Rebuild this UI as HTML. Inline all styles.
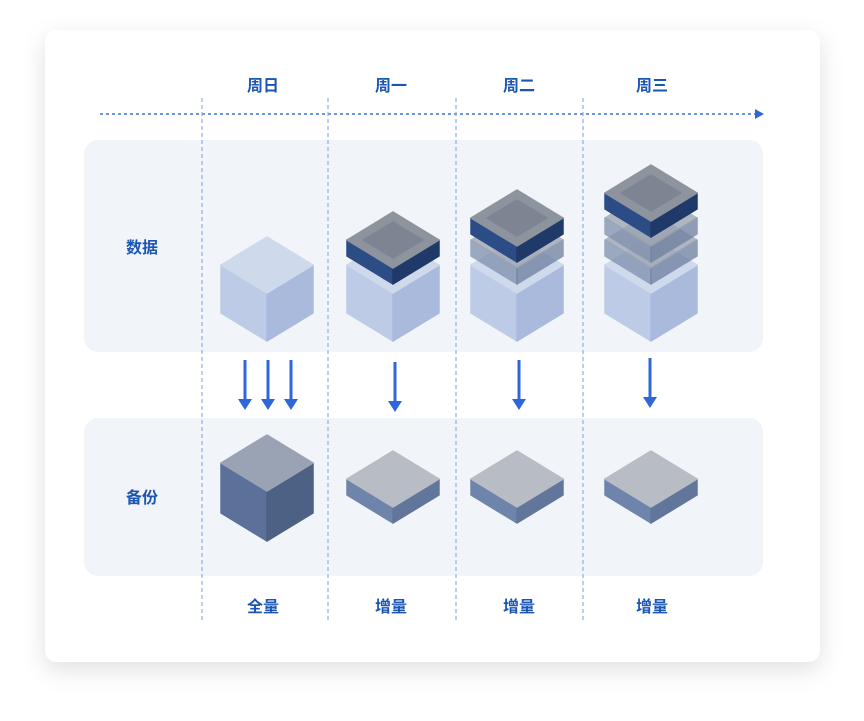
<!DOCTYPE html>
<html><head><meta charset="utf-8"><style>
html,body{margin:0;padding:0;background:#fff;width:864px;height:721px;overflow:hidden}
text{font-family:"Liberation Sans","Noto Sans CJK SC",sans-serif;font-weight:bold;fill:#1b56b3;font-size:16px;text-anchor:middle}
</style></head><body>
<svg id="s" width="864" height="721" viewBox="0 0 864 721" xmlns="http://www.w3.org/2000/svg">
<defs>
<filter id="sh" x="-10%" y="-10%" width="120%" height="125%"><feDropShadow dx="0" dy="8" stdDeviation="12" flood-color="#000" flood-opacity="0.12"/></filter>
</defs>
<rect x="45" y="30" width="775" height="632" rx="12" fill="#fff" filter="url(#sh)"/>
<rect x="84" y="140" width="679" height="212" rx="14" fill="#f1f5fa"/>
<rect x="84" y="418" width="679" height="158" rx="14" fill="#f1f5fa"/>
<line x1="100" y1="114" x2="758" y2="114" stroke="#3d72d6" stroke-width="1.6" stroke-dasharray="3,3"/>
<polygon points="764,114 755,109 755,119" fill="#2f67d8"/>
<g stroke="#8faee0" stroke-width="1.2" stroke-dasharray="4,3">
<line x1="202" y1="98" x2="202" y2="620"/><line x1="328" y1="98" x2="328" y2="620"/>
<line x1="456" y1="98" x2="456" y2="620"/><line x1="583" y1="98" x2="583" y2="620"/>
</g>
<text x="263" y="91">周日</text><text x="391" y="91">周一</text><text x="519" y="91">周二</text><text x="652" y="91">周三</text>
<text x="142" y="253">数据</text><text x="142" y="503">备份</text>
<text x="263" y="612">全量</text><text x="391" y="612">增量</text><text x="519" y="612">增量</text><text x="652" y="612">增量</text>
<g fill="#2f67d8" stroke="#2f67d8">
<g id="arrows"></g>
</g>
<g id="cubes"></g>
</svg>
<script>
var NS="http://www.w3.org/2000/svg";
function poly(g,pts,fill,op){var p=document.createElementNS(NS,"polygon");p.setAttribute("points",pts.map(function(a){return a.join(",")}).join(" "));p.setAttribute("fill",fill);p.setAttribute("stroke",fill);p.setAttribute("stroke-width","1.5");p.setAttribute("stroke-linejoin","round");if(op)p.setAttribute("opacity",op);g.appendChild(p);}
var G=document.getElementById("cubes");
function cube(cx,t,w,h,d,top,l,r,op){
 poly(G,[[cx-w,t+h],[cx,t+2*h],[cx,t+2*h+d],[cx-w,t+h+d]],l,op);
 poly(G,[[cx+w,t+h],[cx,t+2*h],[cx,t+2*h+d],[cx+w,t+h+d]],r,op);
 poly(G,[[cx,t],[cx+w,t+h],[cx,t+2*h],[cx-w,t+h]],top,op);
}
function light(cx){cube(cx,237,46,28,48,"#cfd9ec","#bdcbe6","#a9badd");}
function plate(cx,t){cube(cx,t,46,28,16,"#8e949e","#2c4c85","#1f3a68");
 poly(G,[[cx,t+10],[cx+30,t+28],[cx,t+46],[cx-30,t+28]],"#7d8593");}
function ghost(cx,t){cube(cx,t,46,28,16,"#9aa2b0","#7f90ad","#6e7f9e","0.75");}
light(267);
light(393);plate(393,212);
light(517);ghost(517,212);plate(517,190);
light(651);ghost(651,212);ghost(651,190);plate(651,165);
cube(267,435,46,28,50,"#9aa3b3","#5b7199","#4d6184");
[393,517,651].forEach(function(c){cube(c,451,46,28,16,"#b8bcc5","#6f84aa","#62769b");});
var A=document.getElementById("arrows");
function arrow(x,y1,y2){var l=document.createElementNS(NS,"line");l.setAttribute("x1",x);l.setAttribute("x2",x);l.setAttribute("y1",y1);l.setAttribute("y2",y2-8);l.setAttribute("stroke-width","3");A.appendChild(l);
 var p=document.createElementNS(NS,"polygon");p.setAttribute("points",(x-7)+","+(y2-11)+" "+(x+7)+","+(y2-11)+" "+x+","+y2);p.setAttribute("stroke","none");A.appendChild(p);}
arrow(245,360,410);arrow(268,360,410);arrow(291,360,410);
arrow(395,362,412);arrow(519,360,410);arrow(650,358,408);
</script>
</body></html>
